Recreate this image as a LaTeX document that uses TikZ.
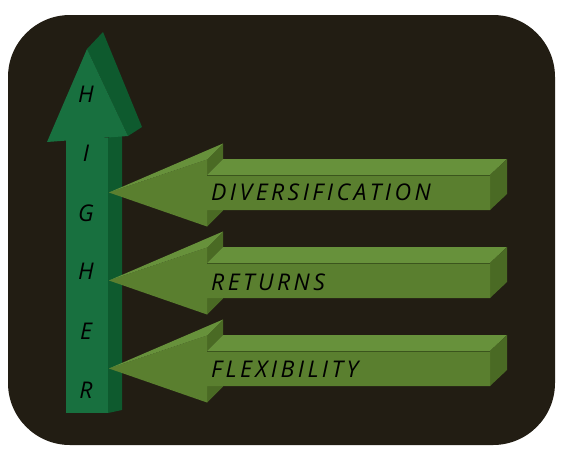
\documentclass[tikz,border=0pt]{standalone}
\usepackage{fontspec}
\newfontfamily\hand[LetterSpace=15]{Open Sans}
\newfontfamily\vhand{Open Sans}
\definecolor{bgdark}{HTML}{221D13}
\definecolor{gfront}{HTML}{18703F}
\definecolor{gside}{HTML}{0E5A2E}
\definecolor{ofront}{HTML}{5A7F2F}
\definecolor{otop}{HTML}{67913B}
\definecolor{oside}{HTML}{4A6A24}
\tikzset{
  lbl/.style={font=\hand\itshape\fontsize{23}{23}\selectfont, text=black, inner sep=0pt},
  vlbl/.style={font=\vhand\itshape\fontsize{23}{23}\selectfont, text=black, inner sep=0pt},
}
\begin{document}
\begin{tikzpicture}[x=1pt,y=-1pt]
\useasboundingbox (0,0) rectangle (566,459);
\fill[white] (0,0) rectangle (566,459);
\fill[bgdark, rounded corners=62pt] (8,15) rectangle (555,445);
% vertical arrow
\fill[gside] (108,138) -- (122,130) -- (122,410) -- (108,413) -- cycle;
\fill[gfront] (66,138) rectangle (108,413);
\fill[gside] (87,49) -- (103,32) -- (142,127) -- (128,136) -- cycle;
\fill[gfront] (47,142) -- (87,49) -- (128,136) -- cycle;
% horizontal arrows
\foreach \yc in {192.5,280.5,368.5}{
  \fill[oside] (207,\yc+17.5) -- (223,\yc+1.5) -- (223,\yc+18) -- (207,\yc+34) -- cycle;
  \fill[oside] (207,\yc-33) -- (223,\yc-49) -- (223,\yc-33.5) -- (207,\yc-17.5) -- cycle;
  \fill[otop] (207,\yc-17.5) -- (223,\yc-33.5) -- (507,\yc-33.5) -- (490,\yc-17.5) -- cycle;
  \fill[oside] (490,\yc-17.5) -- (507,\yc-33.5) -- (507,\yc+1.5) -- (490,\yc+17.5) -- cycle;
  \fill[ofront] (109,\yc) -- (207,\yc-33) -- (207,\yc-17.5) -- (490,\yc-17.5) -- (490,\yc+17.5) -- (207,\yc+17.5) -- (207,\yc+34) -- cycle;
  \fill[otop] (109,\yc) -- (207,\yc-33) -- (223,\yc-49) -- cycle;
  \draw[oside!80!black, line width=0.6pt] (207,\yc-17.5) -- (490,\yc-17.5);
}
% labels
\node[lbl, anchor=west] (t1) at (211,192.5) {DIVERSIFICATION};
\node[lbl, anchor=west] (t2) at (211,282) {RETURNS};
\node[lbl, anchor=west] (t3) at (211,369.5) {FLEXIBILITY};
\node[vlbl] (v1) at (86,94) {H};
\node[vlbl] (v2) at (86,153) {I};
\node[vlbl] (v3) at (86,213) {G};
\node[vlbl] (v4) at (86,271) {H};
\node[vlbl] (v5) at (86,331) {E};
\node[vlbl] (v6) at (86,390) {R};
\end{tikzpicture}
\end{document}
